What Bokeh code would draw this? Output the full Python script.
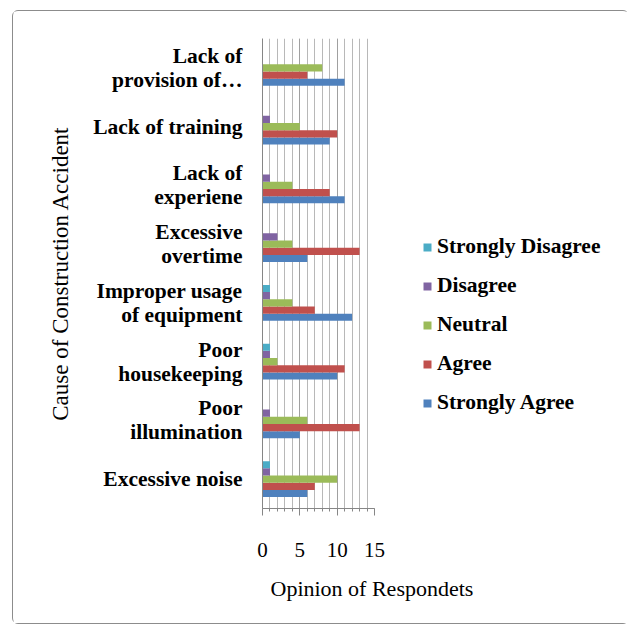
from bokeh.plotting import figure
from bokeh.models import (FactorRange, Range1d, Legend, LegendItem, Title,
                          SingleIntervalTicker, ColumnDataSource)
from bokeh.transform import dodge
from bokeh.embed import file_html
from bokeh.resources import INLINE

# ---- data (bottom to top) ----
causes = ["Excessive noise", "Poor\nillumination", "Poor\nhousekeeping",
          "Improper usage\nof equipment", "Excessive\novertime",
          "Lack of\nexperiene", "Lack of training", "Lack of\nprovision of\u2026"]
strongly_agree = [6, 5, 10, 12, 6, 11, 9, 11]
agree = [7, 13, 11, 7, 13, 9, 10, 6]
neutral = [10, 6, 2, 4, 4, 4, 5, 8]
disagree = [1, 1, 1, 1, 2, 1, 1, 0]
strongly_disagree = [1, 0, 1, 1, 0, 0, 0, 0]

series_names = ["Strongly Agree", "Agree", "Neutral", "Disagree", "Strongly Disagree"]
colors = ["#4F81BD", "#C0504D", "#9BBB59", "#8064A2", "#4BACC6"]
x_title = "Opinion of Respondets"
y_title = "Cause of Construction Accident"

src = ColumnDataSource(dict(cause=causes, sa=strongly_agree, a=agree, n=neutral,
                            d=disagree, sd=strongly_disagree))
keys = ["sa", "a", "n", "d", "sd"]

FONT = "Liberation Serif"

p = figure(frame_width=112, frame_height=470,
           y_range=FactorRange(*causes), x_range=Range1d(0, 15),
           output_backend="svg", toolbar_location=None,
           min_border_left=249, min_border_right=252,
           min_border_top=27, min_border_bottom=115)
p.outline_line_color = None

bh = 0.1225
renderers = {}
for i, (k, name, c) in enumerate(zip(keys, series_names, colors)):
    off = (i - 2) * bh
    r = p.hbar(y=dodge("cause", off, range=p.y_range), left=0, right=k,
               height=bh, source=src, fill_color=c, line_color=None)
    renderers[name] = r

# x axis
p.xaxis.ticker = SingleIntervalTicker(interval=5, num_minor_ticks=5)
p.xaxis.axis_line_color = "#868686"
p.xaxis.major_tick_line_color = "#868686"
p.xaxis.minor_tick_line_color = "#868686"
p.xaxis.major_tick_in = 0
p.xaxis.major_tick_out = 7
p.xaxis.minor_tick_in = 0
p.xaxis.minor_tick_out = 3
p.xaxis.major_label_text_font = FONT
p.xaxis.major_label_text_font_size = "21px"
p.xaxis.major_label_text_color = "black"
p.xaxis.major_label_standoff = 27

xt = Title(text=x_title, align="left", offset=8, standoff=28,
           text_font=FONT, text_font_size="22px", text_font_style="normal",
           text_color="black")
p.add_layout(xt, "below")

# y axis
p.yaxis.axis_line_color = "#868686"
p.yaxis.major_tick_line_color = None
p.yaxis.major_tick_out = 0
p.yaxis.major_tick_in = 0
p.yaxis.major_label_text_font = FONT
p.yaxis.major_label_text_font_size = "21.5px"
p.yaxis.major_label_text_font_style = "bold"
p.yaxis.major_label_text_color = "black"
p.yaxis.major_label_text_line_height = 1.0
p.yaxis.major_label_standoff = 20
p.yaxis.axis_label = y_title
p.yaxis.axis_label_text_font = FONT
p.yaxis.axis_label_text_font_size = "23px"
p.yaxis.axis_label_text_font_style = "normal"
p.yaxis.axis_label_text_color = "black"
p.yaxis.axis_label_standoff = 17

# grid
p.ygrid.grid_line_color = None
p.xgrid.grid_line_color = "#a0a0a0"
p.xgrid.minor_grid_line_color = "#b8b8b8"

# legend
order = ["Strongly Disagree", "Disagree", "Neutral", "Agree", "Strongly Agree"]
legend = Legend(items=[LegendItem(label=n, renderers=[renderers[n]]) for n in order],
                location=(48, 93))
legend.border_line_color = None
legend.background_fill_alpha = 0
legend.padding = 0
legend.margin = 0
legend.spacing = 14
legend.glyph_width = 10
legend.glyph_height = 10
legend.label_standoff = 5
legend.label_height = 22
legend.label_text_font = FONT
legend.label_text_font_style = "bold"
legend.label_text_font_size = "21.5px"
legend.label_text_color = "black"
p.add_layout(legend, "right")

p.styles = {"border": "1.5px solid #8c8c8c", "border-radius": "6px",
            "margin-left": "12px", "margin-top": "10px",
            "width": "617px", "box-sizing": "border-box"}

open("out.html", "w").write(file_html(p, INLINE))
